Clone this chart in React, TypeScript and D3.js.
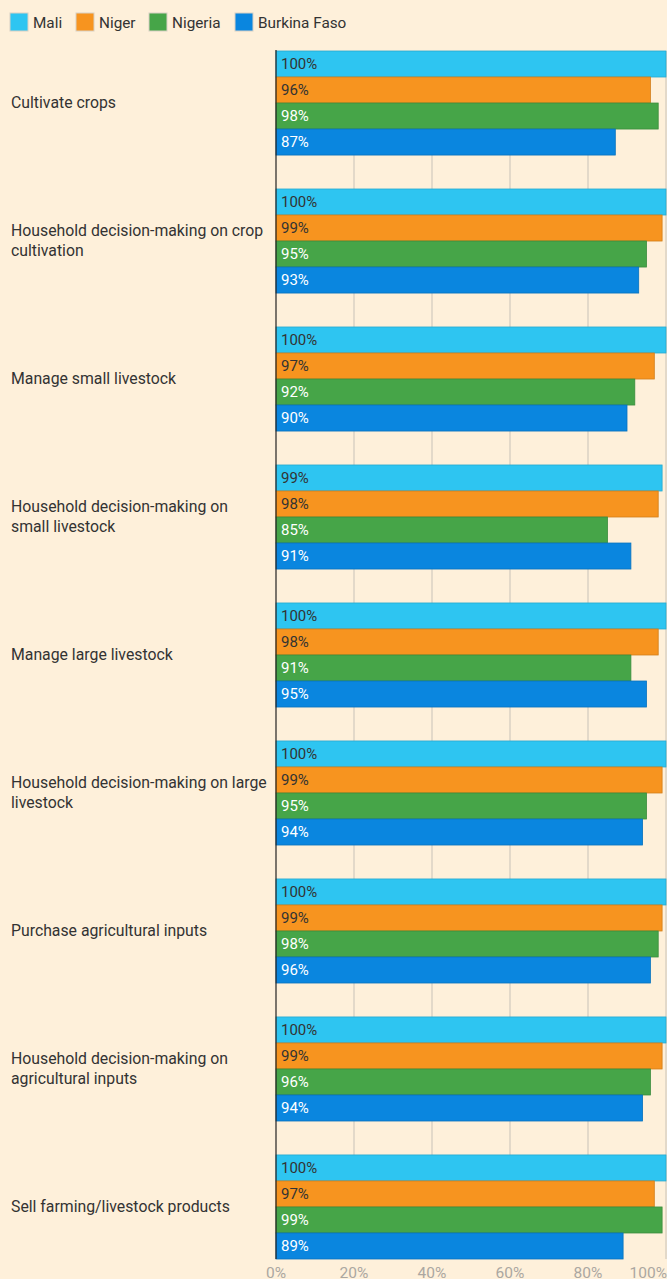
import { useRef, useEffect } from "react";
import * as d3 from "d3";

const categories = [
  "Cultivate crops",
  "Household decision-making on crop cultivation",
  "Manage small livestock",
  "Household decision-making on small livestock",
  "Manage large livestock",
  "Household decision-making on large livestock",
  "Purchase agricultural inputs",
  "Household decision-making on agricultural inputs",
  "Sell farming/livestock products",
];

const countries = ["Mali", "Niger", "Nigeria", "Burkina Faso"];

const mali = [100, 100, 100, 99, 100, 100, 100, 100, 100];
const niger = [96, 99, 97, 98, 98, 99, 99, 99, 97];
const nigeria = [98, 95, 92, 85, 91, 95, 98, 96, 99];
const burkina = [87, 93, 90, 91, 95, 94, 96, 94, 89];

const tickValues = [0, 20, 40, 60, 80, 100];

const colors = ["#2EC5F1", "#F7941F", "#46A548", "#0A86DF"];
const strokes = ["#27A9D0", "#D27E1A", "#3B8C3D", "#0872BD"];
const labelColors = ["#333333", "#333333", "#ffffff", "#ffffff"];

const BG = "#FEF0DA";

function App() {
  const ref = useRef<SVGSVGElement>(null);

  useEffect(() => {
    document.body.style.margin = "0";
    document.body.style.background = BG;

    const svg = d3.select(ref.current);
    svg.selectAll("*").remove();

    const width = 667;
    const left = 276;
    const right = 666;
    const top = 51;
    const bottom = 1259;
    const font = "Roboto, 'Noto Sans', sans-serif";

    const series = [mali, niger, nigeria, burkina];
    const rows = categories.map((c, i) => ({
      label: c,
      values: series.map((s) => s[i]),
    }));

    const x = d3.scaleLinear().domain([0, 100]).range([left, right]);
    const y0 = d3
      .scaleBand<string>()
      .domain(categories)
      .range([top, bottom])
      .paddingInner(0.246)
      .paddingOuter(0);
    const y1 = d3
      .scaleBand<string>()
      .domain(countries)
      .range([0, y0.bandwidth()])
      .padding(0);

    svg.append("rect").attr("width", width).attr("height", 1279).attr("fill", BG);

    // grid lines
    svg
      .append("g")
      .selectAll("line")
      .data(tickValues.slice(1))
      .enter()
      .append("line")
      .attr("x1", (d) => x(d))
      .attr("x2", (d) => x(d))
      .attr("y1", top)
      .attr("y2", bottom)
      .attr("stroke", "#c8c2b8")
      .attr("stroke-width", 1);

    // bars
    const group = svg
      .append("g")
      .selectAll("g")
      .data(rows)
      .enter()
      .append("g")
      .attr("transform", (d) => "translate(0," + y0(d.label) + ")");

    group
      .selectAll("rect")
      .data((d) => d.values)
      .enter()
      .append("rect")
      .attr("x", left)
      .attr("y", (d, i) => y1(countries[i])!)
      .attr("width", (d) => x(d) - left)
      .attr("height", y1.bandwidth())
      .attr("fill", (d, i) => colors[i])
      .attr("stroke", (d, i) => strokes[i])
      .attr("stroke-width", 0.8);

    group
      .selectAll("text")
      .data((d) => d.values)
      .enter()
      .append("text")
      .attr("x", left + 5)
      .attr("y", (d, i) => y1(countries[i])! + y1.bandwidth() / 2)
      .attr("dy", "0.36em")
      .attr("font-family", font)
      .attr("font-size", 15)
      .attr("fill", (d, i) => labelColors[i])
      .text((d) => d + "%");

    // axis line
    svg
      .append("line")
      .attr("x1", left)
      .attr("x2", left)
      .attr("y1", top - 1)
      .attr("y2", bottom)
      .attr("stroke", "#222")
      .attr("stroke-width", 1.2);

    // tick labels
    svg
      .append("g")
      .selectAll("text")
      .data(tickValues)
      .enter()
      .append("text")
      .attr("x", (d) => (d === 100 ? width : x(d)))
      .attr("y", 1272)
      .attr("dy", "0.36em")
      .attr("text-anchor", (d) => (d === 100 ? "end" : "middle"))
      .attr("font-family", font)
      .attr("font-size", 15.5)
      .attr("fill", "#aba7a1")
      .text((d) => d + "%");

    // category labels with wrapping
    const labels = svg
      .append("g")
      .selectAll("text")
      .data(categories)
      .enter()
      .append("text")
      .attr("font-family", font)
      .attr("font-size", 15.8)
      .attr("fill", "#333");

    labels.each(function (d) {
      const t = d3.select(this);
      const words = d.split(" ");
      const lines: string[] = [];
      let line = "";
      const probe = t.append("tspan");
      words.forEach((w) => {
        const test = line ? line + " " + w : w;
        probe.text(test);
        if ((probe.node() as SVGTSpanElement).getComputedTextLength() > 257.5 && line) {
          lines.push(line);
          line = w;
        } else {
          line = test;
        }
      });
      lines.push(line);
      probe.remove();
      const cy = y0(d)! + y0.bandwidth() / 2;
      const lh = 20;
      lines.forEach((l, i) => {
        t.append("tspan")
          .attr("x", 11)
          .attr("y", cy - ((lines.length - 1) * lh) / 2 + i * lh)
          .attr("dy", "0.32em")
          .text(l);
      });
    });

    // legend
    const legendX = [10, 76, 149, 235];
    const legend = svg
      .append("g")
      .selectAll("g")
      .data(countries)
      .enter()
      .append("g")
      .attr("transform", (d, i) => "translate(" + legendX[i] + ",13)");

    legend
      .append("rect")
      .attr("width", 18)
      .attr("height", 18)
      .attr("fill", (d, i) => colors[i])
      .attr("stroke", "#d8d0c4")
      .attr("stroke-width", 1);

    legend
      .append("text")
      .attr("x", 23)
      .attr("y", 9)
      .attr("dy", "0.36em")
      .attr("font-family", font)
      .attr("font-size", 15.3)
      .attr("fill", "#333")
      .text((d) => d);
  }, []);

  return <svg ref={ref} width="667" height="1279" style={{ display: "block" }} />;
}

export default App;
